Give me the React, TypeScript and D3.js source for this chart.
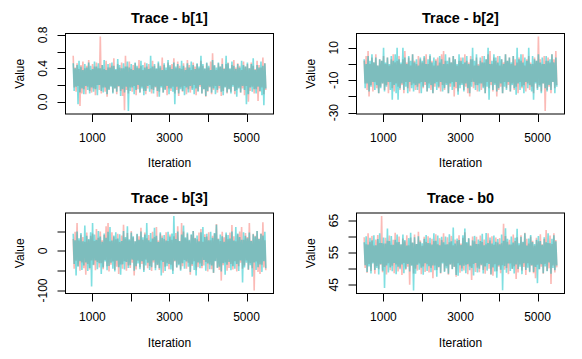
import React from "react";
import * as d3 from "d3";

// ---------- data ----------
const ITER_START = 501;
const ITER_END = 5500;
const xTicks = [1000, 2000, 3000, 4000, 5000];
const xTickLabels = ["1000", "", "3000", "", "5000"];
const chainColors = ["#F8766D", "#00BFC4"];

const b1ChainA = [
  .55,.17,.41,.12,.46,.19,.39,-.05,.44,.10,.48,.15,.40,.09,.43,.18,.50,.13,.38,.11,
  .45,.16,.42,.08,.47,.20,.40,.14,.78,.10,.44,.17,.39,.12,.49,.06,.41,.15,.46,.19,
  .43,.11,.52,.16,.38,.09,.45,.18,.41,.13,.47,.07,.40,-.10,.55,.14,.42,.10,.48,.17,
  .39,.12,.44,.19,.46,.08,.41,.15,.50,.11,.43,.18,.38,.13,.47,.09,.42,.16,.45,.20,
  .40,.10,.49,.14,.43,.17,.39,.06,.46,.12,.41,.19,.53,.11,.44,.15,.38,.08,.47,.16,
  .42,.13,.45,.18,.52,.10,.40,.14,.48,.07,.43,.17,.39,.12,.46,.19,.41,.09,.50,.15,
  .44,.11,.38,.16,.47,.20,.42,.08,.45,.13,.40,.18,.49,.10,.43,.15,.39,.06,.46,.12,
  .41,.17,.48,.09,.58,.14,.43,.19,.38,.11,.46,.16,.42,.07,.52,.13,.40,.18,.45,.10,
  .47,.15,.39,.12,.44,.20,.50,.09,.41,.14,.46,.17,.43,.11,.38,.16,.48,.08,.42,.19,
  .45,.00,.40,.13,.47,.18,.43,.10,.39,.15,.49,.01,.44,.12,.41,.17,.53,.09,.46,.14,
];
const b1ChainB = [
  .46,.13,.40,.18,.44,-.03,.49,.11,.42,.16,.38,.09,.45,.19,.41,.14,.47,.10,.43,.17,
  .39,.12,.48,.15,.42,.08,.46,.20,.40,.13,.44,.11,.50,.17,.38,.09,.45,.14,.41,.18,
  .47,.10,.43,.16,.39,.12,.51,.19,.44,.07,.40,.15,.46,.11,.42,.18,.48,-.11,.41,.13,
  .45,.17,.38,.09,.47,.14,.43,.20,.40,.11,.49,.16,.44,.08,.41,.13,.46,.19,.39,.12,
  .55,.15,.42,.10,.45,.18,.40,.13,.48,.06,.43,.17,.38,.11,.46,.14,.41,.19,.50,.09,
  .44,.16,.39,.12,.47,-.03,.42,.18,.45,.10,.40,.15,.49,.13,.43,.08,.38,.17,.46,.11,
  .41,.19,.48,.14,.44,.09,.39,.16,.46,.12,.42,.20,.55,.10,.45,.15,.40,.07,.47,.13,
  .43,.18,.38,.11,.50,.16,.44,.09,.41,.14,.47,.19,.42,.12,.45,.08,.39,.17,.55,.11,
  .46,.15,.40,.10,.48,.18,.43,.13,.39,.06,.45,.16,.41,.11,.49,.19,.44,.14,.42,-.03,
  .47,.09,.40,.17,.45,.12,.52,.15,.38,.10,.44,.18,.41,.13,.48,.08,.43,-.04,.46,.16,
];

const b2ChainA = [
  2,-12,5,-16,8,-20,0,-13,4,-17,1,-11,6,-15,-1,-18,3,-14,2,-12,
  5,-16,0,-13,4,-18,-1,-11,3,-15,6,-17,1,-12,2,-14,5,-16,0,-13,
  3,-18,8,-11,1,-15,4,-17,-1,-13,6,-12,2,-16,0,-14,5,-18,3,-11,
  1,-15,4,-13,6,-17,0,-12,5,-16,2,-18,-1,-14,3,-11,4,-15,1,-17,
  6,-13,8,-16,2,-12,0,-18,4,-14,1,-11,5,-20,3,-15,-1,-17,2,-13,
  4,-12,0,-16,6,-14,2,-18,1,-20,5,-11,3,-15,-1,-13,4,-17,0,-12,
  2,-16,5,-14,1,-18,3,-11,6,-15,8,-13,0,-17,4,-12,2,-20,5,-16,
  -1,-14,3,-18,1,-11,6,-15,2,-13,4,-17,0,-12,5,-16,3,-14,1,-18,
  4,-11,2,-15,6,-13,-1,-17,3,-12,5,-16,1,-14,0,-18,4,-11,2,-15,
  17,-13,3,-17,0,-12,5,-29,2,-16,4,-14,1,-18,6,-11,3,-15,8,-13,
];
const b2ChainB = [
  3,-15,0,-12,5,-17,2,-14,6,-11,1,-16,4,-13,-1,-18,3,-15,2,-12,
  10,-17,1,-14,4,-11,0,-16,5,-22,2,-13,6,-18,10,-22,3,-15,1,-12,
  10,-16,4,-14,0,-18,5,-11,2,-15,6,-17,1,-13,3,-16,-1,-12,4,-18,
  2,-14,5,-11,0,-17,3,-15,6,-13,1,-18,4,-12,2,-16,-1,-14,5,-11,
  3,-17,0,-15,6,-13,2,-18,4,-12,1,-16,5,-14,3,-11,0,-19,6,-15,
  2,-13,4,-17,1,-12,5,-15,0,-18,3,-14,10,-11,2,-16,6,-13,-1,-17,
  4,-12,1,-15,5,-18,3,-14,10,-22,0,-11,2,-16,6,-13,4,-17,1,-15,
  5,-12,3,-18,0,-14,6,-16,2,-11,4,-17,1,-13,5,-15,-1,-19,10,-12,
  3,-16,6,-14,1,-18,4,-11,2,-15,10,-13,0,-17,5,-22,3,-12,2,-16,
  6,-14,1,-18,4,-12,0,-15,5,-17,2,-13,3,-16,6,-11,1,-18,4,-14,
];

const b3ChainA = [
  30,-45,48,-25,70,-38,26,-50,41,-29,35,-44,23,-60,46,-33,28,-47,38,-24,
  44,-36,25,-49,55,-28,33,-42,49,-31,27,-46,40,-23,62,-39,70,-52,24,-35,
  47,-27,36,-48,29,-40,43,-58,22,-34,39,-45,66,-26,31,-50,45,-37,27,-43,
  50,-30,34,-62,24,-47,42,-25,37,-41,58,-33,28,-49,46,-22,32,-44,40,-38,
  23,-51,48,-29,35,-43,60,-36,26,-48,44,-24,39,-55,30,-40,47,-31,25,-46,
  41,-35,28,-50,37,-27,45,-42,62,-33,24,-47,70,-39,49,-23,32,-45,43,-30,
  26,-60,40,-38,50,-26,33,-49,29,-41,46,-32,55,-44,23,-37,42,-28,36,-52,
  47,-34,27,-46,38,-56,44,-25,68,-42,31,-48,25,-75,48,-36,34,-29,41,-50,
  29,-43,46,-33,65,-47,37,-26,24,-52,42,-39,49,-30,60,-45,28,-37,45,-24,
  35,-48,70,-31,26,-44,43,-100,38,-27,50,-53,31,-58,44,-35,72,-42,27,-49,
];
const b3ChainB = [
  43,-33,27,-62,49,-40,32,-26,45,-48,24,-37,64,-29,38,-51,30,-43,47,-90,
  70,-35,41,-24,28,-46,50,-31,36,-58,23,-42,44,-27,33,-49,48,-38,60,-30,
  26,-45,39,-52,47,-25,31,-41,42,-60,25,-34,50,-47,35,-28,62,-43,29,-36,
  46,-22,37,-50,24,-39,43,-32,28,-46,49,-26,34,-53,41,-37,70,-30,27,-48,
  45,-41,31,-24,58,-49,38,-35,22,-44,47,-62,33,-28,40,-51,26,-39,48,-33,
  36,-47,44,-58,88,-25,30,-42,49,-36,25,-50,41,-31,64,-45,34,-27,46,-40,
  28,-53,42,-34,50,-48,32,-62,39,-29,24,-44,47,-38,60,-23,35,-50,43,-32,
  27,-46,48,-37,33,-55,45,-26,66,-43,29,-40,41,-52,37,-31,23,-60,46,-35,
  40,-28,31,-49,49,-39,26,-45,60,-33,44,-51,35,-24,28,-80,47,-42,38,-30,
  32,-47,46,-36,25,-65,42,-29,36,-48,50,-41,30,-34,43,-53,39,-26,48,-44,
];

const b0ChainA = [
  59.8,50.2,57.6,48.7,61.0,51.5,58.4,49.3,60.2,51.9,57.2,48.4,59.1,50.8,60.5,49.8,58.0,51.2,66.4,48.9,
  57.8,50.5,59.6,48.2,58.7,51.7,60.3,49.5,57.4,50.9,59.0,48.6,61.2,51.3,58.2,49.1,60.0,50.3,57.5,48.0,
  59.4,51.8,58.5,49.7,60.4,50.6,57.3,45.0,59.7,51.1,58.1,48.5,60.6,50.0,57.7,49.4,61.5,51.6,58.8,48.3,
  57.1,50.7,59.9,49.0,58.3,51.4,60.1,48.8,57.9,50.2,59.3,47.0,58.6,51.0,60.7,49.6,57.6,50.4,59.5,48.5,
  58.9,51.9,61.0,49.2,57.5,50.8,59.8,48.1,58.2,51.3,60.2,49.9,57.3,50.5,59.1,47.5,58.7,51.7,60.4,48.7,
  57.8,50.1,59.6,49.4,61.3,51.2,58.0,48.3,59.4,50.7,57.2,46.5,60.0,51.5,58.5,49.0,59.9,50.3,57.7,48.9,
  60.3,51.0,58.3,49.6,59.1,48.4,57.6,51.8,61.0,50.0,58.8,48.2,60.1,47.8,57.4,51.4,59.7,49.2,58.1,50.6,
  59.5,48.6,57.9,51.1,64.0,49.7,60.2,50.2,58.4,48.3,59.0,51.6,57.5,49.9,60.6,50.8,58.6,46.8,59.8,48.8,
  57.3,51.3,60.4,49.4,58.2,50.5,61.2,48.0,59.3,51.7,57.8,49.1,60.0,50.9,58.7,48.6,57.2,47.0,59.6,51.2,
  58.5,49.8,60.7,50.6,57.6,48.4,59.2,51.5,62.0,49.3,58.0,50.1,60.3,45.2,57.7,51.0,61.0,48.8,58.9,50.4,
];
const b0ChainB = [
  58.2,51.1,60.1,49.0,57.5,50.7,59.6,48.5,58.8,51.6,60.4,49.6,57.3,50.2,59.2,48.2,61.0,51.4,58.0,49.4,
  59.7,44.0,57.8,51.0,62.5,48.8,58.6,50.4,60.2,49.2,57.4,51.8,59.0,48.3,60.6,50.6,58.3,49.8,57.6,51.3,
  60.6,48.6,58.9,50.0,57.2,51.5,59.5,49.1,61.2,50.9,58.1,43.2,59.8,48.4,57.7,51.2,60.1,49.7,58.4,50.3,
  57.9,48.1,59.3,51.7,60.5,49.3,58.0,50.8,59.6,48.9,57.5,51.0,61.0,49.5,58.7,47.5,60.3,50.5,57.3,48.7,
  59.9,51.6,58.2,49.0,60.0,50.1,57.6,48.4,60.7,51.3,58.5,49.8,62.8,50.6,57.8,48.0,59.4,47.8,58.9,51.1,
  57.4,49.2,60.4,50.9,62.5,48.6,58.3,51.4,59.5,49.5,57.1,50.2,58.8,47.9,60.2,51.8,57.7,48.8,59.1,50.0,
  58.6,51.2,60.9,48.5,57.3,50.7,61.1,49.4,58.0,51.5,59.7,48.2,57.8,50.4,60.3,49.1,58.4,47.2,59.2,51.0,
  57.6,49.7,60.6,43.3,58.7,50.8,62.6,48.7,59.3,51.6,57.5,49.3,60.0,50.0,58.1,48.5,59.6,51.3,62.4,49.9,
  57.9,50.6,59.9,48.3,58.4,51.7,61.0,49.6,57.2,50.3,59.4,48.9,60.5,51.1,58.3,49.0,57.7,50.5,59.0,45.5,
  60.2,49.8,58.6,51.4,57.4,48.6,59.8,50.7,58.2,49.2,61.0,51.9,57.9,48.4,59.3,50.2,60.4,49.5,58.5,51.0,
];

const b1Ticks = [0, 0.2, 0.4, 0.6, 0.8];
const b1TickLabels = ["0.0", "", "0.4", "", "0.8"];
const b2Ticks = [-30, -20, -10, 0, 10];
const b2TickLabels = ["-30", "", "-10", "", "10"];
const b3Ticks = [-100, -50, 0, 50];
const b3TickLabels = ["-100", "", "0", ""];
const b0Ticks = [45, 50, 55, 60, 65];
const b0TickLabels = ["45", "", "55", "", "65"];

const panelTitles = ["Trace - b[1]", "Trace - b[2]", "Trace - b[3]", "Trace - b0"];

const panels = [
  { title: panelTitles[0], chains: [b1ChainA, b1ChainB], ticks: b1Ticks, labels: b1TickLabels, col: 0, row: 0 },
  { title: panelTitles[1], chains: [b2ChainA, b2ChainB], ticks: b2Ticks, labels: b2TickLabels, col: 1, row: 0 },
  { title: panelTitles[2], chains: [b3ChainA, b3ChainB], ticks: b3Ticks, labels: b3TickLabels, col: 0, row: 1 },
  { title: panelTitles[3], chains: [b0ChainA, b0ChainB], ticks: b0Ticks, labels: b0TickLabels, col: 1, row: 1 },
];

// ---------- layout ----------
const W = 582;
const H = 359;
const PANEL_W = 291;
const PANEL_H = 179.5;
const BOX_L = 65.5;
const BOX_R = 273.5;
const BOX_T = 33.5;
const BOX_B = 114;
const TICK = 8;
const FONT = "'Liberation Sans', Arial, Helvetica, sans-serif";

function expand(lo: number, hi: number): [number, number] {
  const p = (hi - lo) * 0.04;
  return [lo - p, hi + p];
}

function Panel({ p }: { p: (typeof panels)[number] }) {
  const ox = p.col * PANEL_W;
  const oy = p.row * PANEL_H;
  const n = p.chains[0].length;
  const iters = d3.range(n).map((i) => ITER_START + (i * (ITER_END - ITER_START)) / (n - 1));
  const x = d3.scaleLinear().domain(expand(ITER_START, ITER_END)).range([BOX_L, BOX_R]);
  const all = p.chains.flat();
  const [lo, hi] = d3.extent(all) as [number, number];
  const y = d3.scaleLinear().domain(expand(lo, hi)).range([BOX_B, BOX_T]);
  const line = d3
    .line<number>()
    .x((_, i) => x(iters[i]))
    .y((d) => y(d));
  const cx = (BOX_L + BOX_R) / 2;
  const cy = (BOX_T + BOX_B) / 2;
  return (
    <g transform={`translate(${ox},${oy})`}>
      <defs>
        <clipPath id={`clip-${p.col}-${p.row}`}>
          <rect x={BOX_L} y={BOX_T} width={BOX_R - BOX_L} height={BOX_B - BOX_T} />
        </clipPath>
      </defs>
      <g clipPath={`url(#clip-${p.col}-${p.row})`}>
        {p.chains.map((c, k) => (
          <path
            key={k}
            d={line(c) || ""}
            fill="none"
            stroke={chainColors[k]}
            strokeOpacity={0.5}
            strokeWidth={1.6}
            strokeLinejoin="miter"
            strokeMiterlimit={1}
          />
        ))}
      </g>
      <rect x={BOX_L} y={BOX_T} width={BOX_R - BOX_L} height={BOX_B - BOX_T} fill="none" stroke="#000" strokeWidth={1} />
      {/* x axis */}
      <line x1={x(xTicks[0])} x2={x(xTicks[xTicks.length - 1])} y1={BOX_B} y2={BOX_B} stroke="#000" />
      {xTicks.map((t, i) => (
        <g key={t}>
          <line x1={Math.round(x(t)) + 0.5} x2={Math.round(x(t)) + 0.5} y1={BOX_B} y2={BOX_B + TICK} stroke="#000" />
          {xTickLabels[i] && (
            <text x={x(t)} y={141.5} textAnchor="middle" fontSize={12} fontFamily={FONT}>
              {xTickLabels[i]}
            </text>
          )}
        </g>
      ))}
      {/* y axis */}
      {p.ticks.map((t, i) => (
        <g key={t}>
          <line x1={BOX_L - TICK} x2={BOX_L} y1={Math.round(y(t)) + 0.5} y2={Math.round(y(t)) + 0.5} stroke="#000" />
          {p.labels[i] && (
            <text
              transform={`translate(${46.5},${y(t)}) rotate(-90)`}
              textAnchor="middle"
              fontSize={12}
              fontFamily={FONT}
            >
              {p.labels[i]}
            </text>
          )}
        </g>
      ))}
      <text x={cx} y={23} textAnchor="middle" fontSize={14.4} fontWeight="bold" fontFamily={FONT}>
        {p.title}
      </text>
      <text x={cx} y={167} textAnchor="middle" fontSize={12} fontFamily={FONT}>
        Iteration
      </text>
      <text transform={`translate(24,${cy}) rotate(-90)`} textAnchor="middle" fontSize={12} fontFamily={FONT}>
        Value
      </text>
    </g>
  );
}

export default function App() {
  return (
    <svg width={W} height={H} style={{ display: "block", position: "absolute", left: 0, top: 0, background: "#fff" }}>
      <rect width={W} height={H} fill="#fff" />
      {panels.map((p) => (
        <Panel key={p.title} p={p} />
      ))}
    </svg>
  );
}
